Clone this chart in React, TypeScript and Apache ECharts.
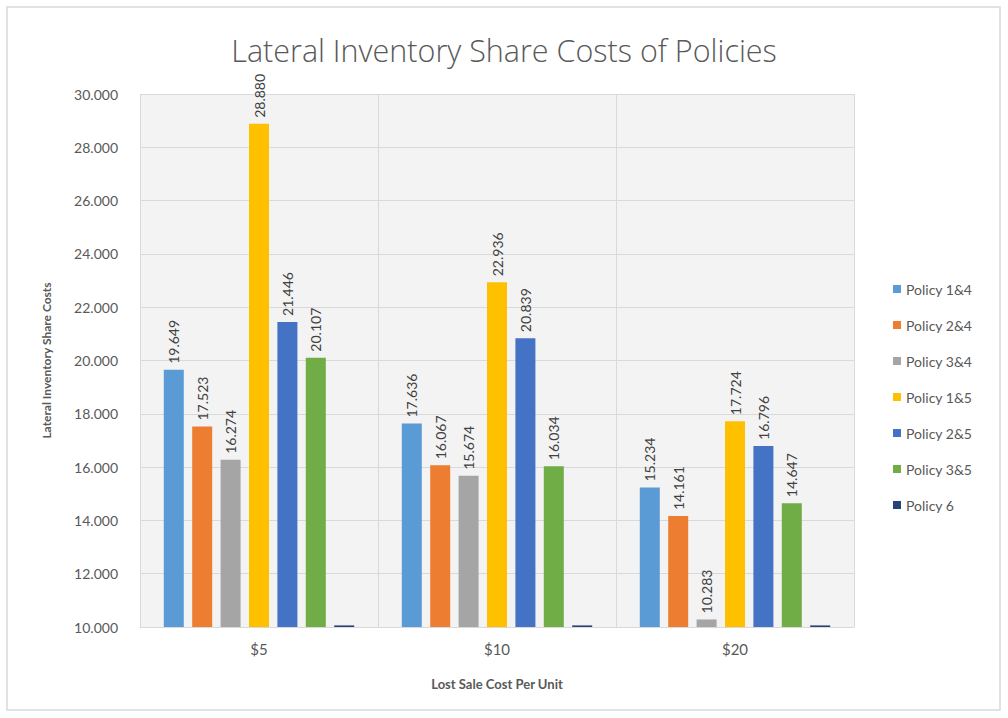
import React, { useEffect, useRef } from "react";
import * as echarts from "echarts";

const categories = ["$5", "$10", "$20"];
const seriesNames = ["Policy 1&4", "Policy 2&4", "Policy 3&4", "Policy 1&5", "Policy 2&5", "Policy 3&5", "Policy 6"];
const policy14 = [19649, 17636, 15234];
const policy24 = [17523, 16067, 14161];
const policy34 = [16274, 15674, 10283];
const policy15 = [28880, 22936, 17724];
const policy25 = [21446, 20839, 16796];
const policy35 = [20107, 16034, 14647];
const policy6 = [10060, 10060, 10060];
const seriesValues = [policy14, policy24, policy34, policy15, policy25, policy35, policy6];
const colors = ["#5B9BD5", "#ED7D31", "#A5A5A5", "#FFC000", "#4472C4", "#70AD47", "#264478"];

const fmt = (v: number) => (v / 1000).toFixed(3);

export default function App() {
  const ref = useRef<HTMLDivElement>(null);
  useEffect(() => {
    if (!ref.current) return;
    const chart = echarts.init(ref.current, undefined, { renderer: "svg" });
    const font = "Lato, 'Open Sans', sans-serif";
    chart.setOption({
      animation: false,
      backgroundColor: "#ffffff",
      textStyle: { fontFamily: font },
      title: {
        text: "Lateral Inventory Share Costs of Policies",
        left: "center",
        top: 29,
        textStyle: { fontSize: 30.5, fontWeight: 300, color: "#595959", fontFamily: "'Open Sans', sans-serif" },
      },
      graphic: [
        {
          type: "rect",
          shape: { x: 7, y: 7, width: 993, height: 703 },
          style: { fill: "none", stroke: "#d9d9d9", lineWidth: 1.5 },
          silent: true,
        },
      ],
      legend: {
        orient: "vertical",
        left: 888,
        top: 277,
        itemWidth: 8,
        itemHeight: 8,
        itemGap: 22,
        icon: "rect",
        textStyle: { fontSize: 14, color: "#595959", fontFamily: font },
        data: seriesNames,
      },
      grid: {
        left: 140,
        right: 154,
        top: 94,
        bottom: 91,
        show: true,
        backgroundColor: "#f3f3f3",
        borderWidth: 0,
      },
      xAxis: {
        type: "category",
        data: categories,
        name: "Lost Sale Cost Per Unit",
        nameLocation: "middle",
        nameGap: 50,
        nameTextStyle: { fontSize: 13, fontWeight: "bold", color: "#595959", fontFamily: font },
        axisLine: { show: true, lineStyle: { color: "#d9d9d9" } },
        axisTick: { show: false },
        axisLabel: { fontSize: 15, color: "#595959", margin: 14 },
        splitLine: { show: true, lineStyle: { color: "#d9d9d9" } },
      },
      yAxis: {
        type: "value",
        min: 10000,
        max: 30000,
        interval: 2000,
        name: "Lateral Inventory Share Costs",
        nameLocation: "middle",
        nameGap: 88,
        nameTextStyle: { fontSize: 12, fontWeight: "bold", color: "#595959", fontFamily: font },
        axisLine: { show: false },
        axisTick: { show: false },
        axisLabel: { fontSize: 14, color: "#595959", margin: 22, formatter: (v: number) => fmt(v) },
        splitLine: { show: true, lineStyle: { color: "#d9d9d9" } },
      },
      series: seriesNames.map((name, i) => ({
        name,
        type: "bar",
        data: seriesValues[i],
        barWidth: 20,
        barGap: "42%",
        itemStyle: { color: colors[i] },
        label: {
          show: i < 6,
          position: "top",
          rotate: 90,
          align: "left",
          verticalAlign: "middle",
          distance: 6,
          fontSize: 14,
          color: "#404040",
          fontFamily: font,
          formatter: (p: any) => fmt(p.value),
        },
      })),
    });
    return () => chart.dispose();
  }, []);
  return (
    <div
      ref={ref}
      style={{ position: "absolute", left: 0, top: 0, width: 1008, height: 718 }}
    />
  );
}
